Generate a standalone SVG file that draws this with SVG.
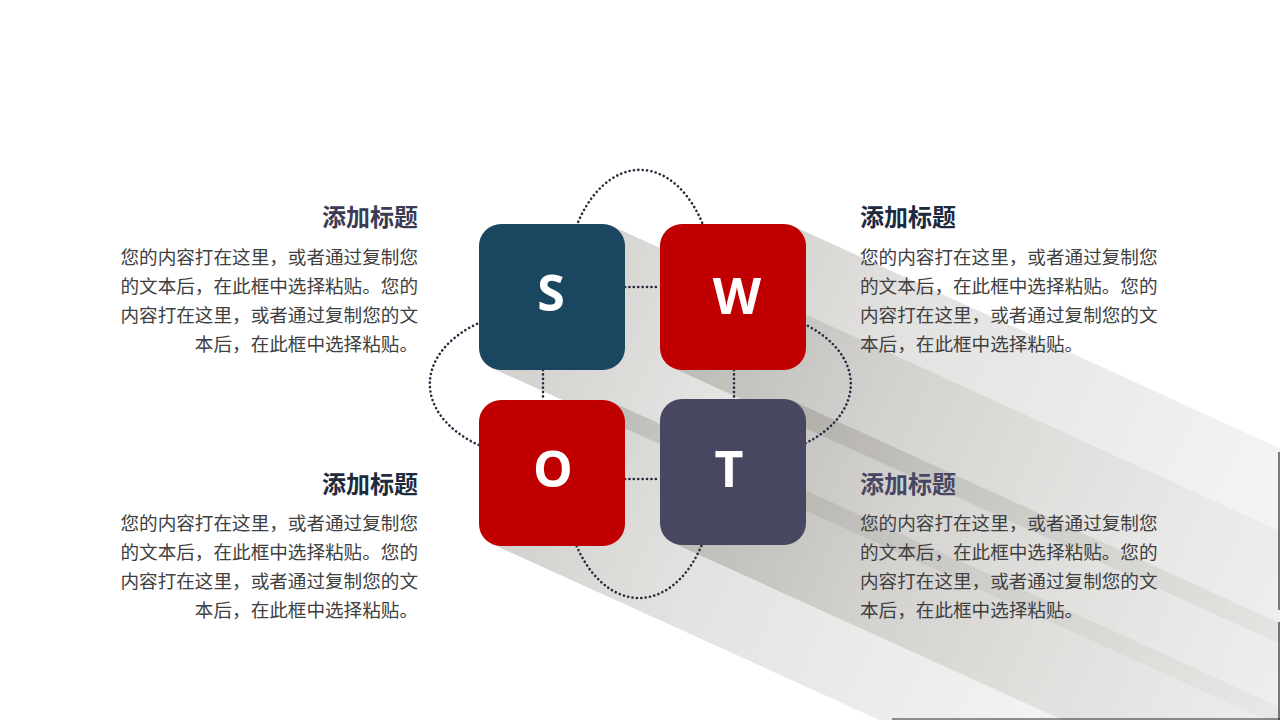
<svg xmlns="http://www.w3.org/2000/svg" width="1280" height="720" viewBox="0 0 1280 720">
  <defs>
    <style>
      .box-letter { font-family: "Open Sans", "Liberation Sans", sans-serif; font-weight: 700; font-size: 50px; fill: #ffffff; text-anchor: middle; }
      .title { font-family: "Noto Sans CJK SC", "Noto Sans", sans-serif; font-weight: 700; font-size: 24px; }
      .body { font-family: "Noto Sans CJK SC", "Noto Sans", sans-serif; font-size: 18.6px; fill: #404040; }
      .right { text-anchor: end; }
      .dot { fill: none; stroke: #262b40; stroke-width: 2.6; stroke-linecap: round; stroke-dasharray: 0.1 4.3; }
      .edge { stroke: #2a2a2a; stroke-width: 1.2; fill: none; }
    </style>
    <linearGradient id="gS" gradientUnits="userSpaceOnUse" x1="552" y1="297" x2="1352" y2="661">
      <stop offset="0" stop-color="#6e6a60" stop-opacity="0.3"/>
      <stop offset="0.2" stop-color="#6e6a60" stop-opacity="0.19"/>
      <stop offset="0.6" stop-color="#6e6a60" stop-opacity="0.09"/>
      <stop offset="1" stop-color="#6e6a60" stop-opacity="0.03"/>
    </linearGradient>
    <linearGradient id="gW" gradientUnits="userSpaceOnUse" x1="733" y1="297" x2="1533" y2="661">
      <stop offset="0" stop-color="#6e6a60" stop-opacity="0.3"/>
      <stop offset="0.2" stop-color="#6e6a60" stop-opacity="0.19"/>
      <stop offset="0.6" stop-color="#6e6a60" stop-opacity="0.09"/>
      <stop offset="1" stop-color="#6e6a60" stop-opacity="0.03"/>
    </linearGradient>
    <linearGradient id="gO" gradientUnits="userSpaceOnUse" x1="552" y1="473" x2="1352" y2="837">
      <stop offset="0" stop-color="#6e6a60" stop-opacity="0.3"/>
      <stop offset="0.2" stop-color="#6e6a60" stop-opacity="0.19"/>
      <stop offset="0.6" stop-color="#6e6a60" stop-opacity="0.09"/>
      <stop offset="1" stop-color="#6e6a60" stop-opacity="0.03"/>
    </linearGradient>
    <linearGradient id="gT" gradientUnits="userSpaceOnUse" x1="733" y1="472" x2="1533" y2="836">
      <stop offset="0" stop-color="#6e6a60" stop-opacity="0.3"/>
      <stop offset="0.2" stop-color="#6e6a60" stop-opacity="0.19"/>
      <stop offset="0.6" stop-color="#6e6a60" stop-opacity="0.09"/>
      <stop offset="1" stop-color="#6e6a60" stop-opacity="0.03"/>
    </linearGradient>
  </defs>

  <rect x="0" y="0" width="1280" height="720" fill="#ffffff"/>

  <g id="shadows">
    <polygon points="612,226 1512,637 1392,777 492,368" fill="url(#gS)"/>
    <polygon points="793,226 1693,637 1573,777 673,368" fill="url(#gW)"/>
    <polygon points="612,402 1512,813 1392,953 492,544" fill="url(#gO)"/>
    <polygon points="793,401 1693,812 1573,952 673,543" fill="url(#gT)"/>
    <path class="edge" d="M1279 452 V610 M1279 622 V720 M892 719 H1280"/>
  </g>

  <g id="connectors">
    <path class="dot" d="M575 230 A75 120 0 0 1 705 230"/>
    <path class="dot" d="M575 542 A75 117 0 0 0 703 542"/>
    <path class="dot" d="M481 322 A117 75 0 0 0 481 446"/>
    <path class="dot" d="M804 324 A117 75 0 0 1 804 444"/>
    <path class="dot" d="M625 287 H660"/>
    <path class="dot" d="M625 479 H660"/>
    <path class="dot" d="M543 370 V400"/>
    <path class="dot" d="M734 370 V399"/>
  </g>

  <g id="node-S">
    <rect x="479" y="224" width="146" height="146" rx="22" fill="#1b4660"/>
    <text class="box-letter" x="551" y="311">S</text>
  </g>
  <g id="node-W">
    <rect x="660" y="224" width="146" height="146" rx="22" fill="#c00000"/>
    <text class="box-letter" x="737" y="314">W</text>
  </g>
  <g id="node-O">
    <rect x="479" y="400" width="146" height="146" rx="22" fill="#c00000"/>
    <text class="box-letter" x="553" y="487">O</text>
  </g>
  <g id="node-T">
    <rect x="660" y="399" width="146" height="146" rx="22" fill="#474762"/>
    <text class="box-letter" x="729" y="487">T</text>
  </g>

  <g id="text-top-left">
    <text class="title right" x="418" y="226" fill="#3b3c54">添加标题</text>
    <text class="body right" x="418" y="264">您的内容打在这里，或者通过复制您</text>
    <text class="body right" x="418" y="293">的文本后，在此框中选择粘贴。您的</text>
    <text class="body right" x="418" y="322">内容打在这里，或者通过复制您的文</text>
    <text class="body right" x="418" y="351">本后，在此框中选择粘贴。</text>
  </g>
  <g id="text-top-right">
    <text class="title" x="860" y="226" fill="#1b2a3e">添加标题</text>
    <text class="body" x="860" y="264">您的内容打在这里，或者通过复制您</text>
    <text class="body" x="860" y="293">的文本后，在此框中选择粘贴。您的</text>
    <text class="body" x="860" y="322">内容打在这里，或者通过复制您的文</text>
    <text class="body" x="860" y="351">本后，在此框中选择粘贴。</text>
  </g>
  <g id="text-bottom-left">
    <text class="title right" x="418" y="493" fill="#1d2b3d">添加标题</text>
    <text class="body right" x="418" y="530">您的内容打在这里，或者通过复制您</text>
    <text class="body right" x="418" y="559">的文本后，在此框中选择粘贴。您的</text>
    <text class="body right" x="418" y="588">内容打在这里，或者通过复制您的文</text>
    <text class="body right" x="418" y="617">本后，在此框中选择粘贴。</text>
  </g>
  <g id="text-bottom-right">
    <text class="title" x="860" y="493" fill="#474762">添加标题</text>
    <text class="body" x="860" y="530">您的内容打在这里，或者通过复制您</text>
    <text class="body" x="860" y="559">的文本后，在此框中选择粘贴。您的</text>
    <text class="body" x="860" y="588">内容打在这里，或者通过复制您的文</text>
    <text class="body" x="860" y="617">本后，在此框中选择粘贴。</text>
  </g>
</svg>
